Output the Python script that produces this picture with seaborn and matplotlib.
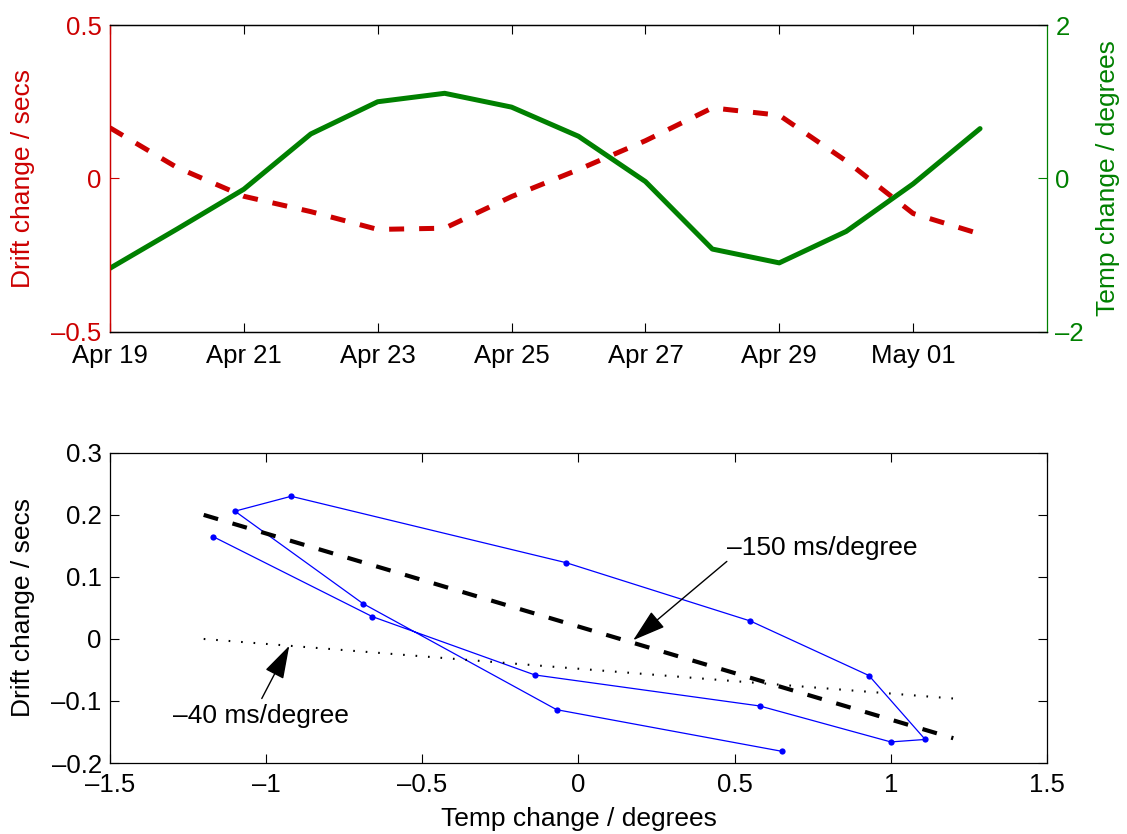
import matplotlib
matplotlib.use("Agg")
import matplotlib.pyplot as plt
import matplotlib.dates as mdates
from matplotlib.ticker import FixedLocator, FuncFormatter
import numpy as np
import pandas as pd
import seaborn as sns

# Daily observations, Apr 19 - May 02
dates = pd.date_range("2013-04-19", "2013-05-02", freq="D")
drift_change = [0.165, 0.036, -0.058, -0.108, -0.166, -0.162, -0.059,
                0.029, 0.123, 0.230, 0.206, 0.057, -0.114, -0.181]
temp_change = [-1.17, -0.66, -0.14, 0.58, 1.00, 1.11, 0.93,
               0.55, -0.04, -0.92, -1.10, -0.69, -0.07, 0.65]

# Candidate drift/temperature relationships (secs per degree)
fit_x = [-1.2, 1.2]
steep_slope, steep_icpt = -0.15, 0.02
shallow_slope, shallow_icpt = -0.04, -0.048

RED = "#cc0000"
GREEN = "#008000"
TICK_FS = 18.5
LABEL_FS = 19

sns.set_style("white")
plt.rcParams["font.family"] = ["Liberation Sans", "DejaVu Sans"]
plt.rcParams["text.color"] = "black"
plt.rcParams["axes.labelcolor"] = "black"

fig = plt.figure(figsize=(11.27, 8.34), dpi=100)
ax1 = fig.add_axes([0.0976, 0.602, 0.8314, 0.368])
ax3 = fig.add_axes([0.0976, 0.0851, 0.8314, 0.3719])


def fmt(v, _pos=None):
    s = "%g" % round(v, 6)
    return s.replace("-", "\u2013")


tick_kw = dict(direction="in", length=6.5, width=0.8, labelsize=TICK_FS)

# ---------- upper panel: time series on twin axes ----------
df = pd.DataFrame({"date": dates, "drift": drift_change, "temp": temp_change})
sns.lineplot(data=df, x="date", y="drift", ax=ax1, color=RED, lw=3.6)
ax1.lines[-1].set_linestyle((0, (3, 3)))
ax2 = ax1.twinx()
sns.lineplot(data=df, x="date", y="temp", ax=ax2, color=GREEN, lw=3.6)

ax1.set_xlim(pd.Timestamp("2013-04-19"), pd.Timestamp("2013-05-03"))
ax1.xaxis.set_major_locator(mdates.DayLocator(bymonthday=[19, 21, 23, 25, 27, 29, 1]))
ax1.xaxis.set_major_formatter(mdates.DateFormatter("%b %d"))
ax1.set_ylim(-0.5, 0.5)
ax1.yaxis.set_major_locator(FixedLocator([-0.5, 0, 0.5]))
ax1.yaxis.set_major_formatter(FuncFormatter(fmt))
ax2.set_ylim(-2, 2)
ax2.yaxis.set_major_locator(FixedLocator([-2, 0, 2]))
ax2.yaxis.set_major_formatter(FuncFormatter(fmt))

ax1.tick_params(axis="x", top=True, bottom=True, pad=9, colors="black", **tick_kw)
ax1.tick_params(axis="y", left=True, right=False, pad=6, colors=RED, **tick_kw)
ax2.tick_params(axis="y", right=True, left=False, pad=6, colors=GREEN, **tick_kw)

for ax in (ax1, ax2):
    for sp in ax.spines.values():
        sp.set_linewidth(0.9)
        sp.set_color("black")
ax1.spines["left"].set_color(RED)
ax2.spines["left"].set_color(RED)
ax2.spines["right"].set_color(GREEN)
ax1.spines["right"].set_visible(False)

ax1.set_xlabel("")
ax1.set_ylabel("Drift change / secs", color=RED, fontsize=LABEL_FS)
ax2.set_ylabel("Temp change / degrees", color=GREEN, fontsize=LABEL_FS)
ax1.yaxis.label.set_va("center")
ax2.yaxis.label.set_va("center")
ax1.yaxis.set_label_coords(-0.0929, 0.5)
ax2.yaxis.set_label_coords(1.065, 0.5)

# ---------- lower panel: drift against temperature ----------
sns.lineplot(x=temp_change, y=drift_change, ax=ax3, sort=False, estimator=None,
             color="blue", lw=0.9, marker="o", markersize=4.5, markeredgewidth=0)

fx = np.array(fit_x)
sns.lineplot(x=fx, y=steep_slope * fx + steep_icpt, ax=ax3, color="black", lw=3)
ax3.lines[-1].set_linestyle((0, (3.6, 3.6)))
sns.lineplot(x=fx, y=shallow_slope * fx + shallow_icpt, ax=ax3, color="black", lw=1.5)
ax3.lines[-1].set_linestyle((0, (0.8, 5.2)))

arrow_kw = dict(arrowstyle="-|>,head_length=1.3,head_width=0.4",
                color="black", lw=1.0, shrinkA=0, shrinkB=0, mutation_scale=16)
ax3.annotate("", xy=(0.175, -0.002), xytext=(0.475, 0.125), arrowprops=arrow_kw)
ax3.text(0.475, 0.1355, "\u2013150 ms/degree", fontsize=LABEL_FS, color="black",
         ha="left", va="baseline")
ax3.annotate("", xy=(-0.926, -0.011), xytext=(-1.014, -0.096), arrowprops=arrow_kw)
ax3.text(-1.2975, -0.135, "\u201340 ms/degree", fontsize=LABEL_FS, color="black",
         ha="left", va="baseline")

ax3.set_xlim(-1.5, 1.5)
ax3.set_ylim(-0.2, 0.3)
ax3.xaxis.set_major_locator(FixedLocator([-1.5, -1, -0.5, 0, 0.5, 1, 1.5]))
ax3.yaxis.set_major_locator(FixedLocator([-0.2, -0.1, 0, 0.1, 0.2, 0.3]))
ax3.xaxis.set_major_formatter(FuncFormatter(fmt))
ax3.yaxis.set_major_formatter(FuncFormatter(fmt))
ax3.tick_params(axis="x", top=True, bottom=True, colors="black", pad=7, **tick_kw)
ax3.tick_params(axis="y", left=True, right=True, colors="black", pad=6, **tick_kw)
for sp in ax3.spines.values():
    sp.set_linewidth(0.9)
    sp.set_color("black")
ax3.set_xlabel("Temp change / degrees", fontsize=LABEL_FS)
ax3.set_ylabel("Drift change / secs", fontsize=LABEL_FS)
ax3.yaxis.label.set_va("center")
ax3.xaxis.label.set_va("center")
ax3.yaxis.set_label_coords(-0.0929, 0.5)
ax3.xaxis.set_label_coords(0.5, -0.18)

fig.savefig("out.png", dpi=100)
